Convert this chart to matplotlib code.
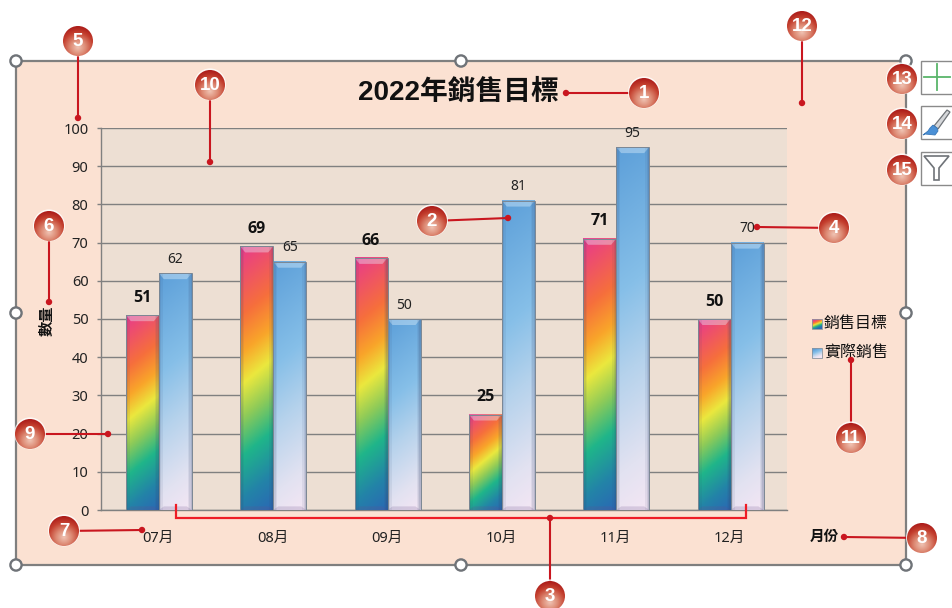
import numpy as np
import matplotlib
matplotlib.use('Agg')
import matplotlib.pyplot as plt
from matplotlib.colors import LinearSegmentedColormap
from matplotlib.patches import Rectangle, Circle, Polygon, PathPatch
from matplotlib.path import Path

months = ['07月', '08月', '09月', '10月', '11月', '12月']
target = [51, 69, 66, 25, 71, 50]
actual = [62, 65, 50, 81, 95, 70]
series_names = ['銷售目標', '實際銷售']
y_ticks = list(range(0, 101, 10))

W, H = 953, 608
plt.rcParams['font.family'] = ['Noto Sans', 'Noto Sans CJK TC', 'DejaVu Sans']
BOLD_FONT = ['Open Sans', 'Noto Sans CJK TC', 'DejaVu Sans']

rainbow = LinearSegmentedColormap.from_list('rainbow_bar', [
    (0.00, '#2a68b4'), (0.12, '#2383a8'), (0.27, '#1fb58a'), (0.40, '#8fcb58'),
    (0.52, '#ebe83e'), (0.63, '#f9a52a'), (0.76, '#f66f3c'), (1.00, '#e8398d')])
sky = LinearSegmentedColormap.from_list('sky_bar', [
    (0.00, '#f4e6f4'), (0.15, '#e2e2f1'), (0.40, '#b5d2ec'), (0.62, '#86bfe8'), (1.00, '#5c9fd9')])
bubble_cm = LinearSegmentedColormap.from_list('bubble', [
    (0.00, '#f0c4b4'), (0.35, '#dd8a74'), (0.70, '#c4402f'), (1.00, '#ab1a18')])

fig = plt.figure(figsize=(W / 100, H / 100), dpi=100, facecolor='white')

# pixel-space layer underneath the chart: chart area and its frame
back = fig.add_axes([0, 0, 1, 1], zorder=0)
back.set_xlim(0, W)
back.set_ylim(H, 0)
back.axis('off')
back.add_patch(Rectangle((16, 61), 890, 504, fc='#fbe1d2', ec='#7f7f7f', lw=1.6))

# plot area
ax = fig.add_axes([101 / W, 1 - 510 / H, 686 / W, 382 / H], zorder=1)
ax.set_facecolor('#eddfd3')
ax.set_xlim(-0.5, 5.5)
ax.set_ylim(0, 100)
ax.set_yticks(y_ticks)
ax.set_xticks(range(len(months)))
ax.set_xticklabels(months, fontsize=10.5, color='#222222')
ax.set_yticklabels([str(v) for v in y_ticks], fontsize=10.5, color='#222222')
ax.tick_params(axis='y', length=3, width=1, color='#808080', pad=6)
ax.tick_params(axis='x', length=0, pad=15)
ax.grid(axis='y', color='#808080', lw=1)
ax.set_axisbelow(True)
for name, spine in ax.spines.items():
    spine.set_visible(name in ('left', 'bottom'))
    spine.set_color('#808080')
    spine.set_linewidth(1)

PX_X = 6 / 686   # data units per pixel
PX_Y = 100 / 382


def gradient_bar(axis, x0, x1, val, cmap):
    w_px = (x1 - x0) / PX_X
    h_px = val / PX_Y
    xx, yy = np.meshgrid(np.linspace(0, w_px, 40), np.linspace(0, h_px, 300))
    t = (yy - 0.8 * xx + 0.8 * w_px) / (h_px + 0.8 * w_px)
    axis.imshow(t, extent=(x0, x1, 0, val), origin='lower', cmap=cmap, vmin=0, vmax=1,
                aspect='auto', zorder=3, interpolation='bilinear')
    # bevel on top of the column
    bx, by = 5 * PX_X, 6 * PX_Y
    axis.add_patch(Polygon([(x0, val), (x1, val), (x1 - bx, val - by), (x0 + bx, val - by)],
                           fc='#e8f6ff', alpha=0.38, ec='none', zorder=4))
    axis.add_patch(Polygon([(x0, 0), (x1, 0), (x1 - bx, by * 0.6), (x0 + bx, by * 0.6)],
                           fc='#6a4f8a', alpha=0.2, ec='none', zorder=4))
    # soft darker sides
    for side, sign in ((x0, 1), (x1, -1)):
        for px, alpha in ((4, 0.08), (2.5, 0.1), (1.2, 0.14)):
            axis.add_patch(Rectangle((side, 0), sign * px * PX_X, val, fc='#35456e', alpha=alpha,
                                     ec='none', zorder=4))
    axis.add_patch(Rectangle((x0, 0), x1 - x0, val, fc='none', ec='#7b8794', lw=0.7, zorder=5))


bar_w = 33 * PX_X
shift = 0.006
for i in range(len(months)):
    gradient_bar(ax, i - bar_w + shift, i + shift, target[i], rainbow)
    gradient_bar(ax, i + shift, i + bar_w + shift, actual[i], sky)
    ax.annotate(str(target[i]), (i - bar_w / 2 + shift, target[i]), xytext=(0, 12.5), textcoords='offset points',
                ha='center', va='center', fontsize=11.5, fontweight='bold', family=BOLD_FONT,
                color='#111111', zorder=6)
    ax.annotate(str(actual[i]), (i + bar_w / 2 + shift, actual[i]), xytext=(0, 10), textcoords='offset points',
                ha='center', va='center', fontsize=10, color='#222222', zorder=6)
ax.set_xlim(-0.5, 5.5)
ax.set_ylim(0, 100)

# pixel-space layer above the chart: texts, handles, callouts
top = fig.add_axes([0, 0, 1, 1], zorder=2)
top.patch.set_visible(False)
top.axis('off')

top.text(458, 92, '2022年銷售目標', ha='center', va='center', fontsize=20, fontweight='bold',
         family=['Liberation Sans', 'Noto Sans CJK TC'], color='#111111')
top.text(48, 321, '數量', rotation=90, ha='center', va='center', fontsize=11, fontweight='bold',
         family=BOLD_FONT, color='#111111')
top.text(824, 537, '月份', ha='center', va='center', fontsize=10.5, fontweight='bold',
         family=BOLD_FONT, color='#111111')

# legend
for y, name, cmap in zip((324, 353), series_names, (rainbow, sky)):
    g = np.linspace(0, 1, 24).reshape(-1, 1) + np.linspace(0, 1, 24).reshape(1, -1) * -0.4 + 0.2
    top.imshow(g, extent=(812, 822, y + 5, y - 5), origin='lower', cmap=cmap, vmin=0, vmax=1,
               aspect='auto', zorder=2)
    top.add_patch(Rectangle((812, y - 5), 10, 10, fc='none', ec='#8a94a0', lw=0.6, zorder=3))
    top.text(824, y, name, ha='left', va='center', fontsize=11.5, color='#111111')

# selection handles
for hx, hy in [(16, 61), (461, 61), (906, 61), (16, 313), (906, 313), (16, 565), (461, 565), (906, 565)]:
    top.add_patch(Circle((hx, hy), 5.6, fc='white', ec='#6f7378', lw=1.7, zorder=4))

# chart tool buttons
for by in (61, 106, 152):
    top.add_patch(Rectangle((921, by), 40, 33, fc='white', ec='#8a8a8a', lw=1, zorder=4))
top.plot([924, 950], [77, 77], color='#59b56a', lw=1.3, zorder=5)
top.plot([937, 937], [64, 90], color='#59b56a', lw=1.3, zorder=5)
top.add_patch(Polygon([(934, 126), (947, 110), (950, 112), (938, 129)], fc='#d5d7da', ec='#6f7378', lw=0.9, zorder=5))
top.add_patch(PathPatch(Path([(933, 125), (937, 128), (938, 131), (935, 135), (925, 134), (923, 135), (928, 131), (930, 128), (933, 125)]),
                        fc='#4a90d6', ec='#3a78b8', lw=0.6, zorder=6))
top.add_patch(Polygon([(924, 156), (949, 156), (939, 168), (939, 180), (934, 180), (934, 168)],
                      fc='white', ec='#6f7378', lw=1.2, zorder=5))

# connector bracket under the category labels
RED = '#c9161f'
top.plot([176, 176, 746, 746], [505, 518, 518, 505], color='#ee1c25', lw=1.6, zorder=6, solid_joinstyle='miter')

callouts = [
    ('1', 644, 93, 566, 93), ('2', 432, 221, 508, 218), ('3', 550, 596, 550, 518),
    ('4', 834, 228, 757, 227), ('5', 78, 41, 78, 118), ('6', 49, 226, 49, 302),
    ('7', 64, 531, 142, 530), ('8', 922, 538, 844, 537), ('9', 30, 434, 108, 434),
    ('10', 210, 85, 210, 162), ('11', 851, 438, 851, 360), ('12', 802, 26, 802, 103),
    ('13', 902, 79, None, None), ('14', 902, 124, None, None), ('15', 902, 170, None, None),
]
# bubble shading: light spot low in the circle, dark red towards the rim
gx, gy = np.meshgrid(np.linspace(-1, 1, 60), np.linspace(-1, 1, 60))
shade = np.hypot(gx * 0.95, gy - 0.42) / 1.42
for label, cx, cy, dx, dy in callouts:
    if dx is not None:
        top.plot([cx, dx], [cy, dy], color=RED, lw=1.5, zorder=7)
        top.add_patch(Circle((dx, dy), 3.2, fc=RED, ec='none', zorder=7))
    top.add_patch(Circle((cx, cy - 0.6), 16, fc='white', ec='none', alpha=0.8, zorder=7))
    img = top.imshow(shade, extent=(cx - 15, cx + 15, cy + 15, cy - 15), origin='upper', cmap=bubble_cm,
                     vmin=0, vmax=1, aspect='auto', zorder=8)
    img.set_clip_path(Circle((cx, cy), 15, transform=top.transData))
    top.text(cx, cy + 0.5, label, ha='center', va='center', fontsize=13.5, fontweight='bold',
             family='Liberation Sans', color='white', zorder=9)

top.set_xlim(0, W)
top.set_ylim(H, 0)

fig.savefig('out.png', dpi=100)
